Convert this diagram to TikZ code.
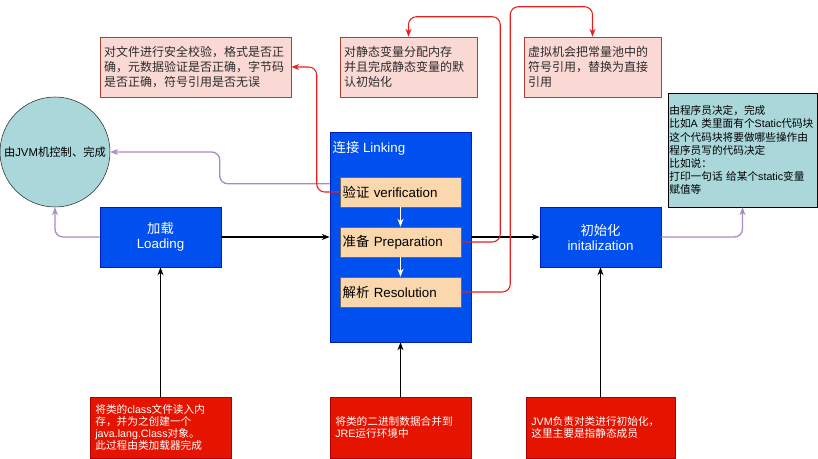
\documentclass[tikz,border=0pt]{standalone}
\usepackage{fontspec}
\setmainfont{Liberation Sans}
\newfontfamily\cjkfont{Noto Sans CJK SC}
\newfontfamily\latinfont{Liberation Sans}
% mark ideographs and CJK punctuation, then switch faces around them
\newcount\cjkcode
\newcommand\cjkrange[2]{\cjkcode=#1\relax
  \loop\XeTeXcharclass\cjkcode=1\relax\advance\cjkcode by 1\relax
  \ifnum\cjkcode<#2\repeat}
\cjkrange{"4E00}{"A000}
\cjkrange{"3000}{"3040}
\cjkrange{"FF00}{"FFF0}
\XeTeXinterchartokenstate=1
\XeTeXinterchartoks 0 1 = {\cjkfont}
\XeTeXinterchartoks 4095 1 = {\cjkfont}
\XeTeXinterchartoks 1 0 = {\latinfont}
\XeTeXinterchartoks 1 4095 = {\latinfont}
\usetikzlibrary{arrows.meta,positioning}
\definecolor{stageblue}{HTML}{0050EF}
\definecolor{stagebd}{HTML}{001DBC}
\definecolor{peach}{HTML}{FAD7AC}
\definecolor{peachbd}{HTML}{6E6862}
\definecolor{notelt}{HTML}{FAD9D5}
\definecolor{notebd}{HTML}{AE4132}
\definecolor{notetext}{HTML}{2B2B2B}
\definecolor{srcred}{HTML}{E51400}
\definecolor{srcbd}{HTML}{B20000}
\definecolor{tealfill}{HTML}{AAD8DA}
\definecolor{edgered}{HTML}{E52020}
\definecolor{edgepurple}{HTML}{A88BC2}
\tikzset{
  box/.style={draw, align=left, inner sep=3pt, font=\fontsize{9}{11.25}\selectfont},
  bluebox/.style={box, fill=stageblue, draw=stagebd, text=white, align=center,
                  minimum width=90.75pt, minimum height=45pt, font=\fontsize{10}{11.25}\selectfont},
  stepbox/.style={box, fill=peach, draw=peachbd, minimum width=90.75pt, minimum height=22.5pt,
                  text width=86.75pt, inner xsep=2pt, font=\fontsize{10}{12}\selectfont},
  notebox/.style={box, fill=notelt, draw=notebd, text=notetext, minimum height=45pt},
  srcbox/.style={box, fill=srcred, draw=srcbd, text=white, minimum height=45.75pt,
                 inner xsep=4pt, font=\fontsize{8}{9}\selectfont},
  tealbox/.style={box, fill=tealfill, draw=black, inner xsep=1pt, minimum height=85.5pt,
                  font=\fontsize{8}{9.8}\selectfont},
  ar/.style={-{Stealth[length=6pt,width=4.5pt]}, line width=0.8pt, draw=black, rounded corners=6pt},
  arred/.style={ar, draw=edgered},
  arpurple/.style={ar, draw=edgepurple, line width=1pt},
  arwhite/.style={ar, draw=white}
}

\begin{document}
\begin{tikzpicture}[x=0.75pt,y=-0.75pt]
  \useasboundingbox (0,0) rectangle (818,459);

  \node[circle, draw=black!85, fill=tealfill, minimum size=82.5pt, inner sep=0pt,
        font=\fontsize{8.5}{10}\selectfont] (jvm) at (55,152) {由JVM机控制、完成};

  \node[notebox, text width=137.25pt] (chk) at (195.5,67)
     {对文件进行安全校验，格式是否正\\确，元数据验证是否正确，字节码\\是否正确，符号引用是否无误};
  \node[notebox, text width=96.75pt] (alloc) at (408.5,67)
     {对静态变量分配内存\\并且完成静态变量的默\\认初始化};
  \node[notebox, text width=96.75pt] (repl) at (592.5,67)
     {虚拟机会把常量池中的\\符号引用，替换为直接\\引用};
  \node[tealbox, text width=109.75pt] (prog) at (742.5,150)
     {由程序员决定，完成\\比如A 类里面有个Static代码块\\这个代码块将要做哪些操作由\\程序员写的代码决定\\比如说：\\打印一句话 给某个static变量\\赋值等};

  \node[bluebox] (load) at (160.5,237) {加载\\Loading};
  \node[bluebox, minimum width=105.75pt, minimum height=157.5pt] (link) at (400.5,237) {};
  \node[anchor=north west, text=white, inner sep=2pt, font=\fontsize{10}{12}\selectfont]
     (linklbl) at ([yshift=-5pt]link.north west) {连接 Linking};
  \node[stepbox] (verif) at (400.5,192) {验证 verification};
  \node[stepbox] (prep) at (400.5,242) {准备 Preparation};
  \node[stepbox] (res) at (400.5,292) {解析 Resolution};
  \node[bluebox] (init) at (600.5,237) {初始化\\initalization};

  \node[srcbox, text width=97.75pt] (src1) at (160.5,427.5)
     {将类的class文件读入内\\存，并为之创建一个\\java.lang.Class对象。\\此过程由类加载器完成};
  \node[srcbox, text width=97.75pt] (src2) at (400.5,427.5)
     {将类的二进制数据合并到\\JRE运行环境中};
  \node[srcbox, text width=103.75pt] (src3) at (600.5,427.5)
     {JVM负责对类进行初始化，\\这里主要是指静态成员};

  \coordinate (linkout) at ([yshift=-39pt]link.north west);

  \draw[ar] (load) -- (link);
  \draw[ar] (link) -- (init);
  \draw[ar] (src1) -- (load);
  \draw[ar] (src2) -- (link);
  \draw[ar] (src3) -- (init);
  \draw[arwhite] (verif) -- (prep);
  \draw[arwhite] (prep) -- (res);

  \draw[arpurple] (load.west) -| (jvm.south);
  \draw[arpurple] (linkout) -- ++(-110,0) |- (jvm.east);
  \draw[arpurple] (init.east) -| (prog.south);

  \draw[arred] (verif.west) -- ++(-23,0) |- (chk.east);
  \draw[arred] (prep.east) -- ++(39,0) |- ([yshift=15pt]alloc.north) -- (alloc.north);
  \draw[arred] (res.east) -- ++(49,0) |- ([yshift=22.5pt]repl.north) -- (repl.north);
\end{tikzpicture}
\end{document}
